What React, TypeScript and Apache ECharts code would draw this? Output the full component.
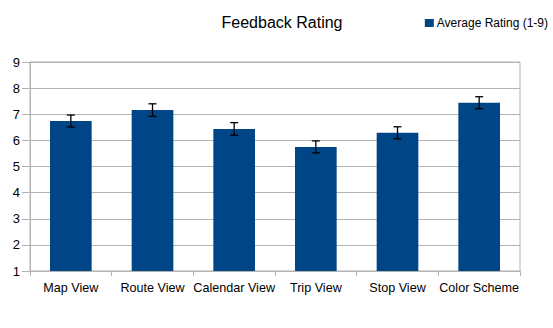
import React, { useEffect, useRef } from "react";
import * as echarts from "echarts";

const categories = ["Map View", "Route View", "Calendar View", "Trip View", "Stop View", "Color Scheme"];
const averageRatings = [6.74, 7.16, 6.44, 5.75, 6.29, 7.44];
const errorMargins = [0.23, 0.24, 0.24, 0.23, 0.23, 0.23];
const yTicks = { min: 1, max: 9, interval: 1 };

const FONT = "'Liberation Sans', Arial, sans-serif";

export default function App() {
  const ref = useRef<HTMLDivElement>(null);
  useEffect(() => {
    document.body.style.margin = "0";
    const chart = echarts.init(ref.current!, null, { renderer: "svg" });
    const errData = categories.map((_, i) => [i, averageRatings[i], errorMargins[i]]);
    chart.setOption({
      animation: false,
      textStyle: { fontFamily: FONT },
      title: {
        text: "Feedback Rating",
        left: 277,
        top: 9,
        textAlign: "center",
        textStyle: { fontFamily: FONT, fontSize: 16, fontWeight: "normal", color: "#000" },
      },
      legend: {
        data: ["Average Rating (1-9)"],
        right: 0,
        top: 12,
        itemWidth: 9,
        itemHeight: 8,
        icon: "rect",
        textStyle: { fontFamily: FONT, fontSize: 12, color: "#000", padding: [0, 0, 0, -2] },
      },
      grid: {
        left: 30,
        right: 33,
        top: 62,
        bottom: 57,
        show: true,
        borderColor: "#b3b3b3",
        borderWidth: 1,
      },
      xAxis: {
        type: "category",
        data: categories,
        axisLine: { lineStyle: { color: "#b3b3b3" } },
        axisTick: { show: true, length: 5, lineStyle: { color: "#b3b3b3" } },
        axisLabel: { color: "#000", fontSize: 12.6, fontFamily: FONT, margin: 10, interval: 0 },
      },
      yAxis: {
        type: "value",
        min: yTicks.min,
        max: yTicks.max,
        interval: yTicks.interval,
        axisLine: { show: true, lineStyle: { color: "#b3b3b3" } },
        axisTick: { show: true, length: 8, lineStyle: { color: "#b3b3b3" } },
        splitLine: { lineStyle: { color: "#b3b3b3" } },
        axisLabel: { color: "#000", fontSize: 13, fontFamily: FONT, margin: 10 },
      },
      series: [
        {
          name: "Average Rating (1-9)",
          type: "bar",
          data: averageRatings,
          barWidth: "51%",
          itemStyle: { color: "#004586" },
        },
        {
          name: "error",
          type: "custom",
          data: errData,
          encode: { x: 0, y: 1 },
          z: 10,
          renderItem: (params: any, api: any) => {
            const x = api.value(0);
            const v = api.value(1);
            const e = api.value(2);
            const top = api.coord([x, v + e]);
            const bot = api.coord([x, v - e]);
            const hw = 4;
            const style = { stroke: "#000", lineWidth: 1.3 };
            return {
              type: "group",
              children: [
                { type: "line", shape: { x1: top[0], y1: top[1], x2: bot[0], y2: bot[1] }, style },
                { type: "line", shape: { x1: top[0] - hw, y1: top[1], x2: top[0] + hw, y2: top[1] }, style },
                { type: "line", shape: { x1: bot[0] - hw, y1: bot[1], x2: bot[0] + hw, y2: bot[1] }, style },
              ],
            };
          },
        },
      ],
    });
    return () => chart.dispose();
  }, []);
  return <div ref={ref} style={{ width: 553, height: 328 }} />;
}
